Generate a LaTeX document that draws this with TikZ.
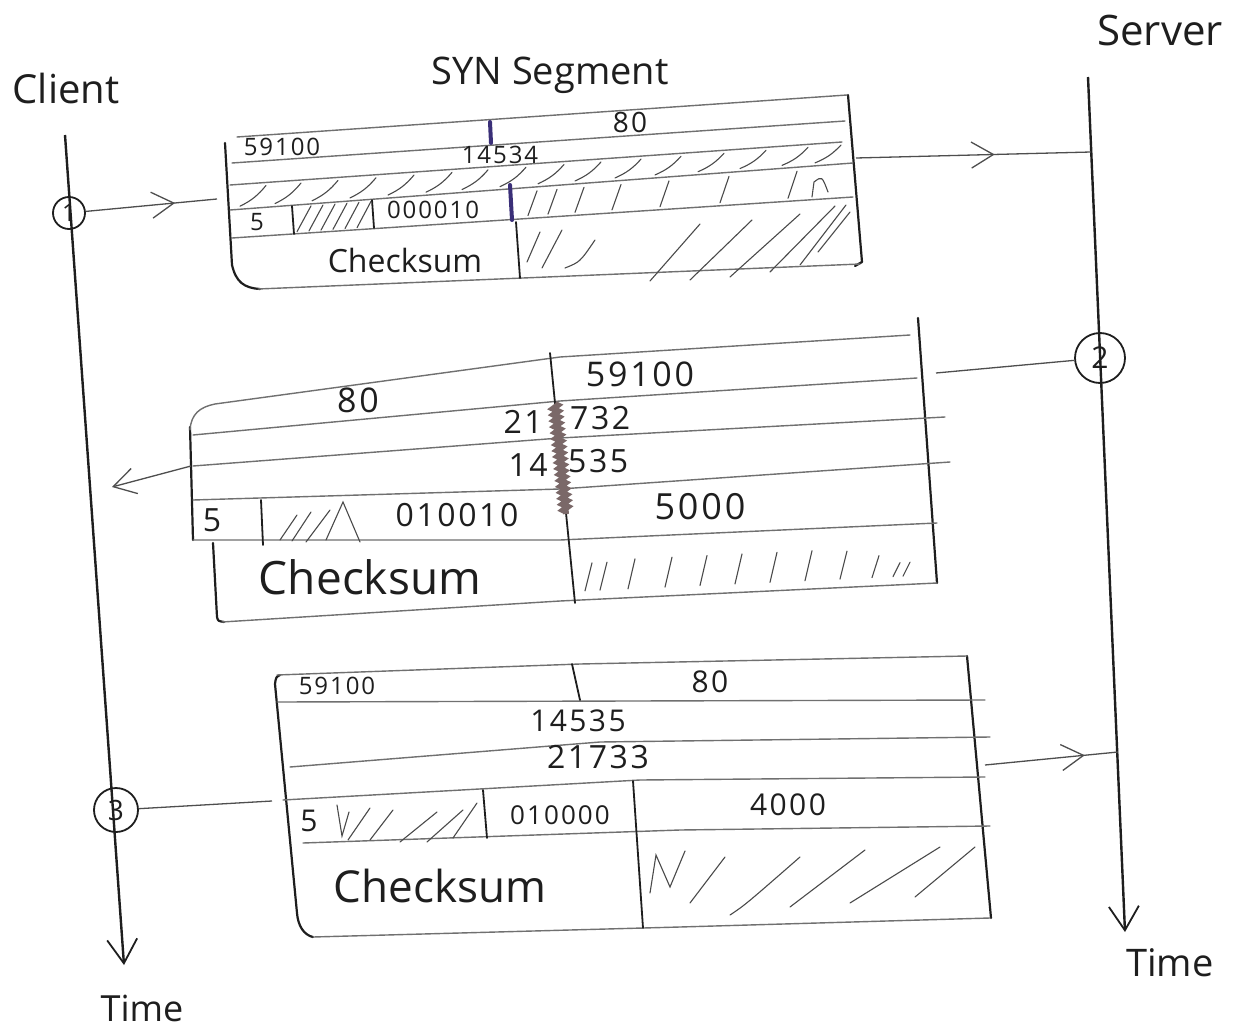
\documentclass[tikz,border=0pt]{standalone}
\usepackage{fontspec}
\setmainfont{Open Sans}
\usetikzlibrary{arrows.meta,decorations.markings,decorations.pathmorphing}
\definecolor{ink}{HTML}{1E1E1E}
\definecolor{pencil}{HTML}{707070}
\definecolor{hatchc}{HTML}{4A4A4A}
\definecolor{purp}{HTML}{3A2F78}
\definecolor{scrib}{HTML}{7A6868}
\newcommand{\hwsize}[1]{\fontsize{#1}{#1}\selectfont}
\tikzset{
  lbl/.style={font=\hwsize{#1}, text=ink, inner sep=0pt},
  dig/.style={font=\hwsize{#1}\addfontfeature{LetterSpace=8}, text=ink, inner sep=0pt},
  edge/.style={draw=ink, line width=2.2pt, line cap=round, line join=round},
  rowline/.style={draw=pencil, line width=1.4pt, line cap=round, line join=round},
  hatch/.style={draw=hatchc, line width=1.1pt, line cap=round},
  axis/.style={draw=ink, line width=2.4pt, -{Straight Barb[length=24pt,width=30pt,line width=1.8pt]}},
  conn/.style={draw=pencil!70!black, line width=1.3pt},
  midarrow/.style={postaction={decorate,decoration={markings,mark=at position #1 with {\arrow[pencil!70!black]{Straight Barb[length=22pt,width=26pt,line width=1.3pt]}}}}},
  circ/.style={circle, draw=ink, line width=1.8pt, inner sep=0pt, minimum size=#1, text=ink},
}
\begin{document}
\begin{tikzpicture}[x=1pt,y=-1pt]
\fill[white] (0,0) rectangle (1235,1033);
\useasboundingbox (0,0) rectangle (1235,1033);

% ---------- titles ----------
\node[lbl=40] (client) at (66,88) {Client};
\node[lbl=42] (server) at (1160,30) {Server};
\node[lbl=38] (syn) at (550,75) {SYN Segment};
\node[lbl=36] (time1) at (142,1008) {Time};
\node[lbl=38] (time2) at (1170,963) {Time};

% ---------- time axes ----------
\coordinate (ctop) at (65,135);
\coordinate (cbot) at (124,965);
\coordinate (stop) at (1088,77);
\coordinate (sbot) at (1125,932);
\draw[axis] (ctop) -- (cbot);
\draw[axis] (stop) -- (sbot);

\node[circ=32, font=\hwsize{24}] (c1) at (69,213) {1};
\node[circ=50, font=\hwsize{30}] (c2) at (1100,358) {2};
\node[circ=44, font=\hwsize{28}] (c3) at (116,810) {3};

% ================= Box 1 (SYN) =================
\draw[edge] (225,143) -- (232,265) .. controls (236,282) and (244,288) .. (260,289);
\draw[edge] (848,95) -- (862,262) -- (855,266);
\draw[rowline] (237,137) -- (847,95);
\draw[rowline] (232,163) -- (845,121);
\draw[rowline] (230,185) -- (842,142);
\draw[rowline] (230,210) -- (853,163);
\draw[rowline] (232,238) -- (853,197);
\draw[rowline] (258,289) -- (860,264);
% dividers
\draw[draw=purp, line width=4pt, line cap=round] (490,122) -- (491,143);
\draw[draw=purp, line width=4pt, line cap=round] (510,185) -- (512,220);
\draw[edge, line width=1.8pt] (516,222) -- (520,278);
\draw[edge, line width=1.8pt] (292,206) -- (294,234);
\draw[edge, line width=1.8pt] (372,200) -- (374,228);
% hatching
\foreach \x in {240,275,312,350,388,426,462,500,538,575,615,655,698,740,782,815}
  \draw[hatch] (\x,{207-0.0754*(\x-230)}) to[bend right=12] ({\x+26},{188-0.0703*(\x-204)});
\foreach \x in {528,548,575,612,660,720,788}
  \draw[hatch] (\x,{235-0.066*(\x-232)}) -- ({\x+9},{214-0.0754*(\x-221)});
\draw[hatch] (812,197) -- (814,182) .. controls (822,176) .. (828,192);
\foreach \x in {297,309,321,333,345,357}
  \draw[hatch] (\x,{236-0.066*(\x-232)}) -- ({\x+14},{212-0.0754*(\x-216)});
\draw[hatch] (527,262) -- (540,232);
\draw[hatch] (542,268) -- (562,230);
\draw[hatch] (565,268) .. controls (580,262) .. (595,240);
\draw[hatch] (650,281) -- (700,224);
\draw[hatch] (690,280) -- (752,220);
\draw[hatch] (730,277) -- (800,214);
\draw[hatch] (770,272) -- (835,206);
\draw[hatch] (800,265) -- (846,205);
\draw[hatch] (818,252) -- (850,212);
% texts
\node[dig=24] (b1src) at (282,147) {59100};
\node[dig=28] (b1dst) at (630,122) {80};
\node[dig=24] (b1seq) at (500,155) {14534};
\node[dig=24] (b1hl) at (257,222) {5};
\node[dig=24] (b1flags) at (433,210) {000010};
\node[lbl=32] (b1ck) at (405,260) {Checksum};
\coordinate (b1l) at (217,199);
\coordinate (b1r) at (856,158);
\coordinate (s1) at (1091,152);

% ================= Box 2 (SYN-ACK) =================
\draw[edge] (190,427) -- (193,540);
\draw[edge] (213,543) -- (217,617) .. controls (218,621) .. (224,622);
\draw[edge] (918,318) -- (937,583);
\draw[rowline] (190,430) .. controls (191,414) and (200,407) .. (215,404) -- (560,357) -- (910,335);
\draw[rowline] (193,435) -- (560,401) -- (917,378);
\draw[rowline] (193,466) -- (560,438) -- (945,417);
\draw[rowline] (193,500) -- (560,489) -- (950,462);
\draw[rowline] (193,540) -- (560,540) -- (937,523);
\draw[rowline] (222,622) -- (560,601) -- (937,583);
\draw[edge, line width=1.8pt] (550,353) -- (575,603);
\draw[draw=scrib, line width=6pt, decorate, decoration={zigzag, segment length=6pt, amplitude=2.5pt}] (555,404) -- (566,514);
\draw[edge, line width=1.8pt] (261,500) -- (263,545);
\draw[hatch] (280,540) -- (297,515);
\draw[hatch] (292,541) -- (311,512);
\draw[hatch] (306,542) -- (330,510);
\draw[hatch] (326,540) -- (343,502) -- (360,542);
\foreach \x/\h in {585/28,600/28,628/30,665/30,700/30,735/30,770/30,805/30,840/28,872/22,893/14,903/14}
  \draw[hatch] (\x,{592-0.046*(\x-560)}) -- ({\x+7},{592-0.046*(\x-560)-\h});
\node[dig=34] (b2src) at (358,400) {80};
\node[dig=34] (b2dst) at (640,374) {59100};
\node[dig=32, anchor=east] (b2seqa) at (543,422) {21};
\node[dig=32, anchor=west] (b2seqb) at (570,418) {732};
\node[dig=32, anchor=east] (b2acka) at (548,465) {14};
\node[dig=32, anchor=west] (b2ackb) at (568,461) {535};
\node[dig=32] (b2hl) at (212,520) {5};
\node[dig=32] (b2flags) at (457,515) {010010};
\node[dig=36] (b2win) at (700,507) {5000};
\node[lbl=46] (b2ck) at (370,577) {Checksum};
\coordinate (b2r) at (936,373);
\coordinate (b2l) at (191,466);
\coordinate (tip2) at (112,487);

% ================= Box 3 (ACK) =================
\draw[edge] (280,675) .. controls (276,677) .. (275,684) -- (297,913) .. controls (298,926) and (304,935) .. (313,937);
\draw[edge] (967,656) -- (991,918);
\draw[rowline] (277,675) -- (580,664) -- (967,656);
\draw[rowline] (277,702) -- (985,700);
\draw[rowline] (290,767) -- (600,742) -- (990,737);
\draw[rowline] (283,800) -- (640,780) -- (985,777);
\draw[rowline] (303,843) -- (680,830) -- (990,826);
\draw[rowline] (313,937) -- (680,927) -- (990,918);
\draw[edge, line width=1.8pt] (572,664) -- (580,700);
\draw[edge, line width=1.8pt] (483,790) -- (487,838);
\draw[edge, line width=1.8pt] (633,781) -- (643,928);
\draw[hatch] (337,805) -- (342,836) -- (349,812);
\draw[hatch] (348,840) -- (370,808);
\draw[hatch] (370,840) -- (393,810);
\draw[hatch] (400,842) -- (437,812);
\draw[hatch] (427,842) -- (463,810);
\draw[hatch] (453,838) -- (477,803);
\draw[hatch] (650,893) -- (656,855) -- (670,887) -- (685,851);
\draw[hatch] (690,903) -- (725,857);
\draw[hatch] (730,915) .. controls (745,905) .. (800,857);
\draw[hatch] (790,907) -- (865,850);
\draw[hatch] (850,903) -- (940,847);
\draw[hatch] (915,897) -- (975,847);
\node[dig=24] (b3src) at (337,686) {59100};
\node[dig=30] (b3dst) at (710,682) {80};
\node[dig=30] (b3seq) at (578,721) {14535};
\node[dig=32] (b3ack) at (598,757) {21733};
\node[dig=30] (b3hl) at (309,821) {5};
\node[dig=26] (b3flags) at (560,815) {010000};
\node[dig=30] (b3win) at (788,805) {4000};
\node[lbl=44] (b3ck) at (440,886) {Checksum};
\coordinate (b3l) at (272,801);
\coordinate (b3r) at (985,765);
\coordinate (s3) at (1118,752);

% ---------- connectors ----------
\draw[conn, midarrow=0.68] (c1) -- (b1l);
\draw[conn, midarrow=0.59] (b1r) -- (s1);
\draw[conn] (c2) -- (b2r);
\draw[conn, -{Straight Barb[length=22pt,width=26pt,line width=1.3pt]}] (b2l) -- (tip2);
\draw[conn] (c3) -- (b3l);
\draw[conn, midarrow=0.75] (b3r) -- (s3);
\end{tikzpicture}
\end{document}
